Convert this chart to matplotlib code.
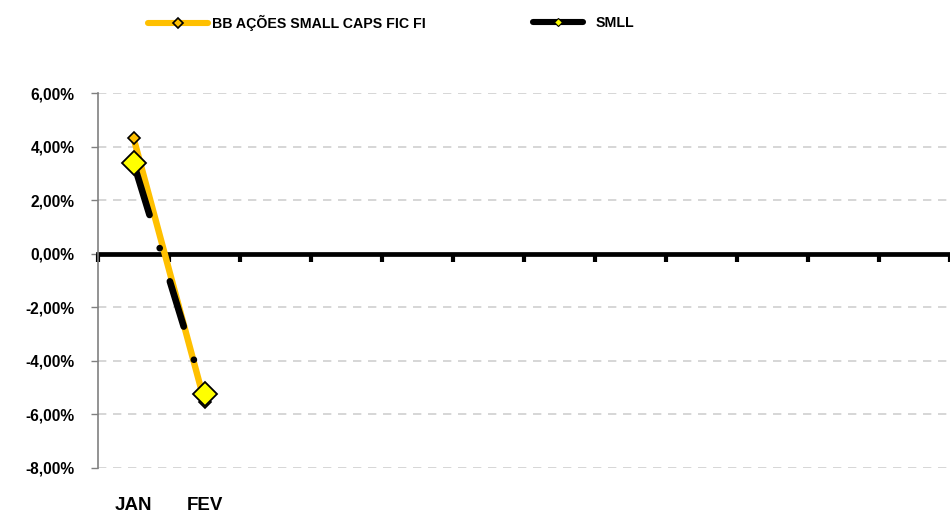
"""Monthly returns: BB Ações Small Caps FIC FI vs SMLL."""

import matplotlib
matplotlib.use("Agg")
import matplotlib.pyplot as plt
from matplotlib.lines import Line2D
from matplotlib.ticker import FuncFormatter, FixedLocator
import numpy as np

# data (returns in %)
months = ["JAN", "FEV", "", "", "", "", "", "", "", "", "", ""]
fund_name = "BB AÇÕES SMALL CAPS FIC FI"
index_name = "SMLL"
fund_returns = [4.33, -5.52]
smll_returns = [3.40, -5.25]
y_ticks = [6, 4, 2, 0, -2, -4, -6, -8]

ORANGE = "#FFC000"
YELLOW = "#FFFF00"

plt.rcParams.update(
    {
        "font.family": ["Liberation Sans", "DejaVu Sans"],
        "font.weight": "bold",
        "font.size": 11,
    }
)

fig = plt.figure(figsize=(9.5, 5.15), dpi=100)
ax = fig.add_axes([98 / 950, 1 - 468 / 515, 1 - 98 / 950, (468 - 93) / 515])

x = np.arange(len(months))

ax.plot(x[: len(fund_returns)], fund_returns, color=ORANGE, lw=4.6,
        marker="D", ms=6.6, mfc=ORANGE, mec="black", mew=1.2, zorder=3)
ax.plot(x[: len(smll_returns)], smll_returns, color="black", lw=4.8,
        ls=(16.4, (7.1, 5.2, 0.01, 5.2)), dash_capstyle="round",
        marker="D", ms=12, mfc=YELLOW, mec="black", mew=1.3, zorder=4)

ax.set_xlim(-0.5, len(months) - 0.5)
ax.set_ylim(-8, 6)
ax.set_yticks(y_ticks)
ax.yaxis.set_major_formatter(FuncFormatter(lambda v, _: f"{v:.2f}%".replace(".", ",")))
ax.tick_params(axis="y", length=5, width=1, color="#808080", pad=12, labelsize=11.2)

ax.grid(axis="y", color="#D0D0D0", ls=(0, (5, 4)), lw=1.2)
ax.set_axisbelow(True)

for side in ("top", "right"):
    ax.spines[side].set_visible(False)
ax.spines["left"].set_color("#808080")
ax.spines["left"].set_linewidth(1.2)

# zero line with category boundary ticks
ax.spines["bottom"].set_position(("data", 0))
ax.spines["bottom"].set_linewidth(3.4)
ax.spines["bottom"].set_zorder(2)
ax.xaxis.set_major_locator(FixedLocator(np.arange(-0.5, len(months), 1.0)))
ax.set_xticklabels([])
ax.tick_params(axis="x", length=6, width=3, color="black", direction="out")

# category labels at the bottom of the plot area
sec = ax.secondary_xaxis(0)
sec.set_xticks(x)
sec.set_xticklabels(months, fontsize=13.5, fontweight="bold")
sec.tick_params(length=0, pad=21)
sec.spines["bottom"].set_visible(False)

# legend
fund_handle = Line2D([], [], color=ORANGE, lw=4.4, marker="D", ms=5,
                     mfc=ORANGE, mec="black", mew=1.2, solid_capstyle="round")
smll_handle = Line2D([], [], color="black", lw=4.4, marker="D", ms=4.5,
                     mfc=YELLOW, mec="black", mew=0.8, solid_capstyle="round")
fig.legend(handles=[fund_handle], labels=[fund_name], loc="center left",
           bbox_to_anchor=(148 / 950, 1 - 23 / 515), frameon=False,
           handlelength=4.2, handletextpad=0.3, borderpad=0, borderaxespad=0,
           prop={"weight": "bold", "size": 10.2})
fig.legend(handles=[smll_handle], labels=[index_name], loc="center left",
           bbox_to_anchor=(533 / 950, 1 - 23 / 515), frameon=False,
           handlelength=3.5, handletextpad=0.9, borderpad=0, borderaxespad=0,
           prop={"weight": "bold", "size": 10.2})

fig.savefig("out.png", dpi=100)
